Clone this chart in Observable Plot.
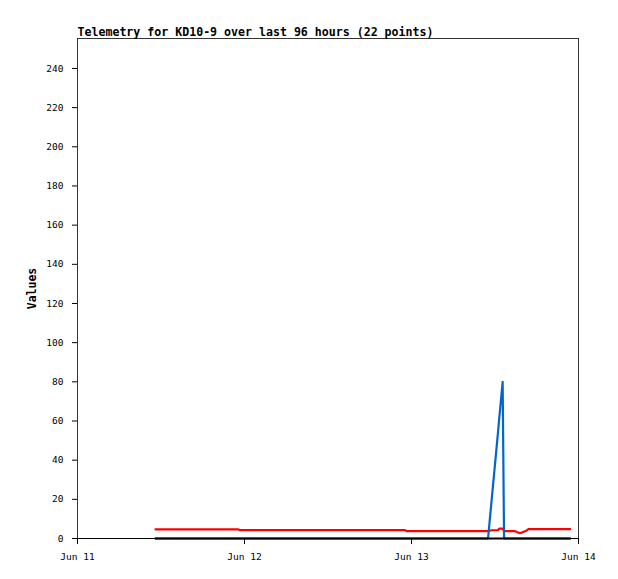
<!DOCTYPE html>
<html>
<head>
<meta charset="utf-8">
<script src="https://cdn.jsdelivr.net/npm/d3@7"></script>
<script src="https://cdn.jsdelivr.net/npm/@observablehq/plot@0.6"></script>
<style>
  html, body { margin: 0; padding: 0; background: #fff; }
  #chart svg { display: block; }
  g[aria-label="y-axis label"] text { font-weight: bold; font-size: 11.5px; }
</style>
</head>
<body>
<div id="chart"></div>
<script>
const titleText = "Telemetry for KD10-9 over last 96 hours (22 points)";
const yLabel = "Values";
const startDate = "2024-06-11T00:00:00Z";
const endDate = "2024-06-14T00:00:00Z";
// hours after Jun 11 00:00
const hours = [11.2, 17.1, 23.0, 23.4, 31.3, 39.2, 47.0, 47.3, 53.2, 59.0, 59.5,
               60.4, 60.6, 61.1, 61.3, 62.8, 63.6, 64.4, 64.8, 66.8, 68.8, 70.8];
const redValues = [4.7, 4.7, 4.7, 4.3, 4.3, 4.3, 4.3, 3.8, 3.8, 3.8, 4.2,
                   4.2, 5.0, 5.0, 3.8, 3.8, 2.7, 3.8, 4.75, 4.75, 4.75, 4.75];
const blueValues = [0, 0, 0, 0, 0, 0, 0, 0, 0, 0, 19,
                    53, 61, 80, 0, 0, 0, 0, 0, 0, 0, 0];
const blackValues = [0, 0, 0, 0, 0, 0, 0, 0, 0, 0, 0,
                     0, 0, 0, 0, 0, 0, 0, 0, 0, 0, 0];
const yTicks = [0, 20, 40, 60, 80, 100, 120, 140, 160, 180, 200, 220, 240];
const yMax = 255.3;

const t0 = new Date(startDate).getTime();
const rows = hours.map((h, i) => ({
  t: new Date(t0 + h * 3600e3),
  red: redValues[i], blue: blueValues[i], black: blackValues[i]
}));
const xTicks = d3.utcDay.range(new Date(startDate), new Date(new Date(endDate).getTime() + 1));

const chart = Plot.plot({
  width: 618,
  height: 579,
  marginLeft: 77,
  marginRight: 40,
  marginTop: 38,
  marginBottom: 41,
  style: { fontFamily: "'DejaVu Sans Mono', 'Liberation Mono', monospace", fontSize: "9.5px", background: "#fff", color: "#000" },
  x: { type: "utc", domain: [new Date(startDate), new Date(endDate)] },
  y: { domain: [0, yMax] },
  marks: [
    Plot.frame({ stroke: "#000", strokeOpacity: 0.8 }),
    Plot.axisY({ ticks: yTicks, tickSize: 5, tickPadding: 9, label: yLabel, labelAnchor: "center", labelArrow: "none", labelOffset: 50, stroke: "#000" }),
    Plot.axisX({ ticks: xTicks, tickSize: 6, tickPadding: 9, tickFormat: d3.utcFormat("%b %d"), label: null, stroke: "#000" }),
    Plot.ruleY([0], { stroke: "#000", strokeWidth: 1.2 }),
    Plot.line(rows, { x: "t", y: "red", stroke: "#ff0000", strokeWidth: 2.2, curve: "linear" }),
    Plot.line(rows, { x: "t", y: "blue", stroke: "#0066cc", strokeWidth: 2.2, curve: "linear" }),
    Plot.line(rows, { x: "t", y: "black", stroke: "#000", strokeWidth: 2, curve: "linear" }),
    Plot.text([titleText], { frameAnchor: "top-left", textAnchor: "start", lineAnchor: "bottom", dy: -3, fontWeight: "bold", fontSize: 11.6, fill: "#000" })
  ]
});
document.getElementById("chart").appendChild(chart);
</script>
</body>
</html>
